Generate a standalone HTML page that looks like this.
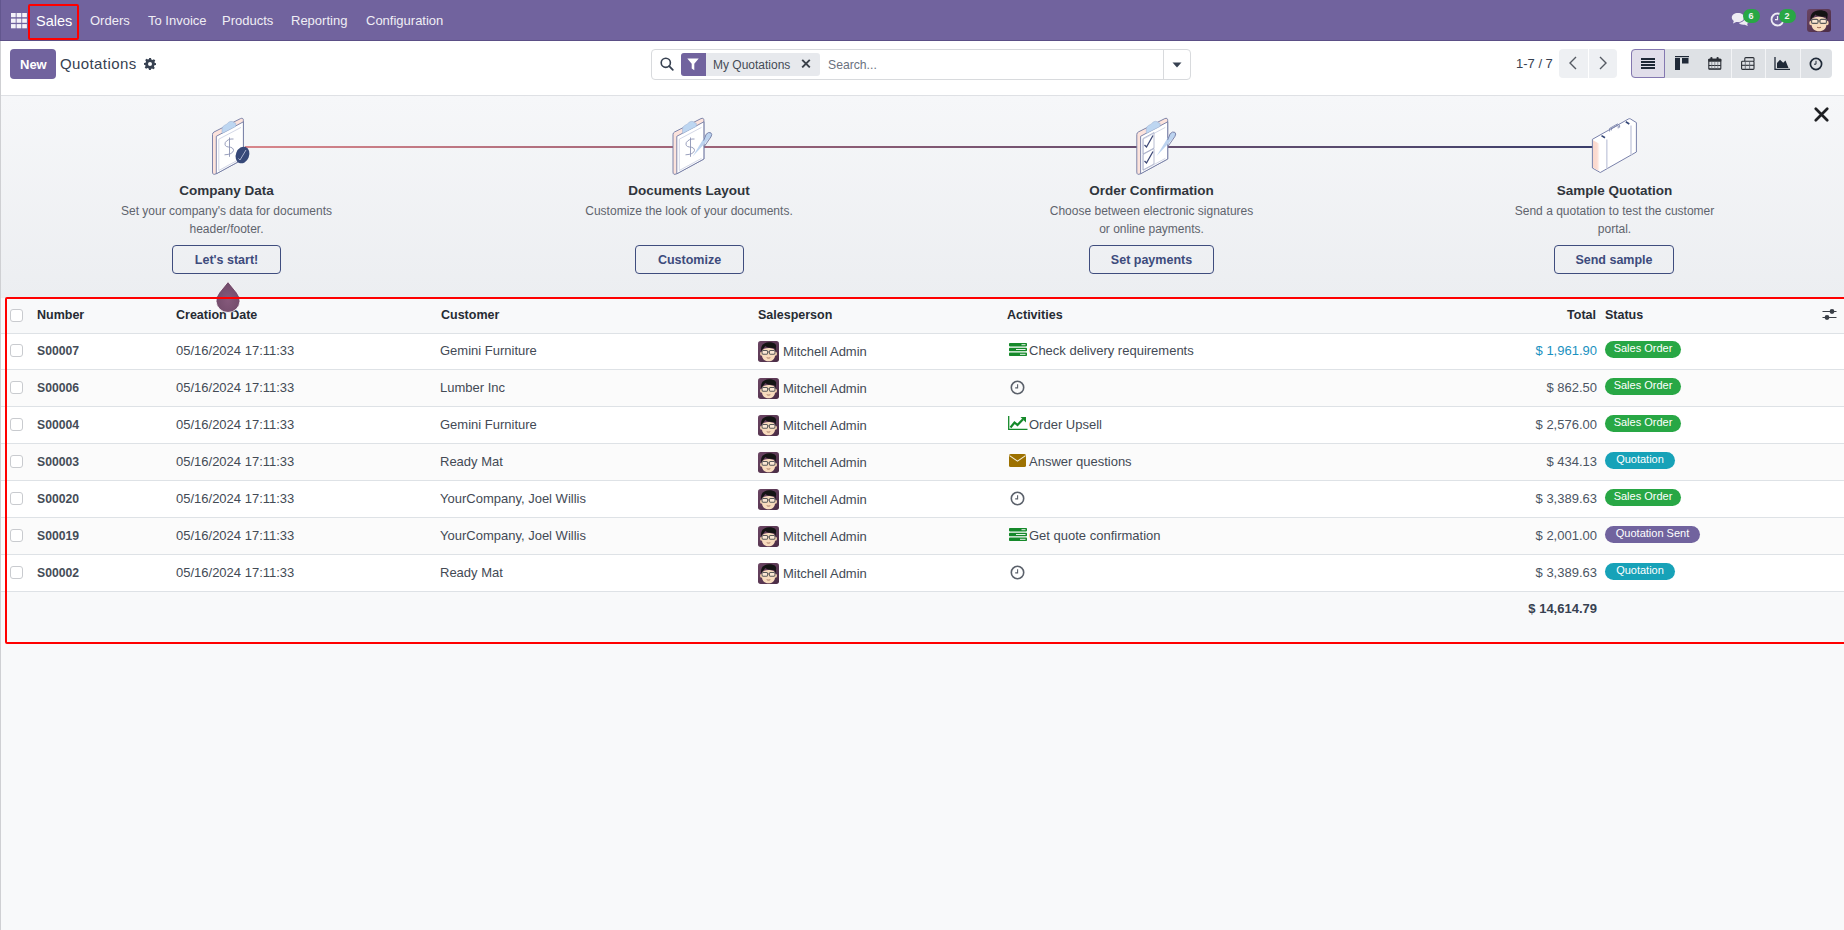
<!DOCTYPE html>
<html><head><meta charset="utf-8">
<style>
*{box-sizing:border-box;margin:0;padding:0}
html,body{width:1844px;height:930px;overflow:hidden}
body{font-family:"Liberation Sans",sans-serif;background:#f8f9fa;position:relative;color:#374151}
.a{position:absolute;white-space:nowrap;line-height:1}
#lb{position:absolute;left:0;top:41px;width:1px;height:889px;background:#cfd0d3;z-index:50}
#nav{position:absolute;left:0;top:0;width:1844px;height:41px;background:#71639e;border-bottom:1px solid #5b4f86}
#nav .m{color:#f0eef5;font-size:13px;top:14px}
#cp{position:absolute;left:0;top:41px;width:1844px;height:55px;background:#fff;border-bottom:1px solid #dfe1e5}
#onb{position:absolute;left:0;top:96px;width:1844px;height:202px;background:linear-gradient(#f6f7f9,#eceef1)}
.t{font-size:13.5px;font-weight:bold;color:#30353c}
.d{font-size:12px;color:#5f646d;line-height:18px;text-align:center;white-space:normal}
.btn{position:absolute;top:245px;height:29px;border:1px solid #3f4d7e;border-radius:4px;color:#3d4b7c;font-size:12.5px;font-weight:bold;text-align:center;line-height:27px;padding-top:1px}
#tbl{position:absolute;left:1px;top:298px;width:1843px}
.row{position:absolute;left:0;width:1843px;border-bottom:1px solid #dee2e6}
.cb{position:absolute;left:9px;width:13px;height:13px;border:1px solid #c9cbcf;border-radius:3px;background:#fff}
.h{font-size:12.5px;font-weight:bold;color:#262b33}
.c{font-size:13px;color:#434a55}
.num{font-size:12.2px;font-weight:bold;color:#454c57}
.badge{position:absolute;left:1605px;height:17px;border-radius:9px;color:#fff;font-size:11px;line-height:15px;text-align:center}
.red{position:absolute;border:2px solid #ff0000;z-index:60}
</style></head><body>
<div id="lb"></div>
<div class="a" style="left:0;top:0;width:1px;height:40px;background:#62568e;z-index:50"></div>

<!-- NAVBAR -->
<div id="nav">
  <svg class="a" style="left:10.8px;top:12.9px" width="16" height="16" viewBox="0 0 16 16"><g fill="#f4f2f8"><rect x="0" y="0" width="4.7" height="4.2"/><rect x="5.6" y="0" width="4.7" height="4.2"/><rect x="11.2" y="0" width="4.7" height="4.2"/><rect x="0" y="5.6" width="4.7" height="4.2"/><rect x="5.6" y="5.6" width="4.7" height="4.2"/><rect x="11.2" y="5.6" width="4.7" height="4.2"/><rect x="0" y="11.1" width="4.7" height="4.2"/><rect x="5.6" y="11.1" width="4.7" height="4.2"/><rect x="11.2" y="11.1" width="4.7" height="4.2"/></g></svg>
  <div class="a" style="left:36px;top:14px;font-size:14.5px;color:#fff">Sales</div>
  <div class="a m" style="left:90px">Orders</div>
  <div class="a m" style="left:148px">To Invoice</div>
  <div class="a m" style="left:222px">Products</div>
  <div class="a m" style="left:291px">Reporting</div>
  <div class="a m" style="left:366px">Configuration</div>
  <svg class="a" style="left:1731px;top:12px" width="19" height="15" viewBox="0 0 19 15"><path fill="#eeecf4" d="M7 1C3.4 1 .8 3 .8 5.6c0 1.4.8 2.6 2 3.4L2 11.5l3.2-1.6c.6.1 1.2.2 1.8.2 3.6 0 6.2-2 6.2-4.5S10.6 1 7 1z"/><path fill="#eeecf4" d="M14 5.2c.2 3-2.6 5.4-6.4 5.6.9 1.2 2.6 2 4.6 2 .5 0 1-.05 1.5-.15L16.8 14l-.7-2.3c1.2-.7 1.9-1.8 1.9-3 0-1.6-1.6-3-4-3.5z"/></svg>
  <div class="a" style="left:1743px;top:9px;width:17px;height:14px;border-radius:8px;background:#28a745"></div>
  <div class="a" style="left:1748.5px;top:12px;font-size:9px;font-weight:bold;color:#f4f4f4">6</div>
  <svg class="a" style="left:1770px;top:11px" width="15" height="16" viewBox="0 0 15 16"><circle cx="7.5" cy="8.5" r="6" fill="none" stroke="#eeecf4" stroke-width="1.8"/><path d="M7.5 5v3.7H5" fill="none" stroke="#eeecf4" stroke-width="1.2"/></svg>
  <div class="a" style="left:1779px;top:9px;width:17px;height:14px;border-radius:8px;background:#28a745"></div>
  <div class="a" style="left:1784.5px;top:12px;font-size:9px;font-weight:bold;color:#f4f4f4">2</div>
  <svg class="a" style="left:1807px;top:9px" width="24" height="23" viewBox="0 0 24 23"><defs><linearGradient id="avg" x1="0" y1="0" x2="1" y2="1"><stop offset="0" stop-color="#6b4563"/><stop offset="1" stop-color="#4a2c45"/></linearGradient></defs><rect width="24" height="23" rx="3" fill="url(#avg)"/><ellipse cx="4" cy="14" rx="1.7" ry="2.2" fill="#f2cfae"/><ellipse cx="20" cy="14" rx="1.7" ry="2.2" fill="#f2cfae"/><path fill="#f7dbbd" d="M4.5 11.5C4.5 6.5 19.5 6.5 19.5 11.5V15C19.5 19.8 16 22.3 12 22.3S4.5 19.8 4.5 15z"/><path fill="#141414" d="M3.6 11.8C2.6 4.5 7 1.2 13 1.3c5 .1 8.6 2 7.6 5.4l-.5 4.3-1.6-3.4C15 8.2 10.2 7.2 8.2 5.6 7.2 7.7 5.8 8.7 4.8 9.2z"/><g fill="rgba(255,255,255,.35)" stroke="#5a5a5a" stroke-width="1.1"><rect x="4.6" y="10.4" width="6.4" height="4" rx="1.2"/><rect x="13" y="10.4" width="6.4" height="4" rx="1.2"/></g><path d="M11 12h2" stroke="#5a5a5a" stroke-width="1"/><path d="M10 18.2c1.3.7 2.7.7 4 0" stroke="#9a6a55" stroke-width="1" fill="none"/></svg>
</div>
<div class="red" style="left:28px;top:4px;width:51px;height:36px;border-radius:2px"></div>

<!-- CONTROL PANEL -->
<div id="cp"></div>
<div class="a" style="left:10px;top:49px;width:46px;height:30px;background:#71639e;border-radius:4px"></div>
<div class="a" style="left:20px;top:58px;font-size:13px;font-weight:bold;color:#fff">New</div>
<div class="a" style="left:60px;top:56px;font-size:15px;letter-spacing:0.4px;color:#374151">Quotations</div>
<svg class="a" style="left:144px;top:58px" width="12" height="12" viewBox="0 0 12 12"><path fill="#374151" d="M5 0h2l.35 1.6a4.6 4.6 0 0 1 1.2.5L9.9 1.2l1.4 1.4-.9 1.35c.22.37.39.77.5 1.2L12 5v2l-1.6.35a4.6 4.6 0 0 1-.5 1.2l.9 1.35-1.4 1.4-1.35-.9a4.6 4.6 0 0 1-1.2.5L7 12H5l-.35-1.6a4.6 4.6 0 0 1-1.2-.5l-1.35.9-1.4-1.4.9-1.35a4.6 4.6 0 0 1-.5-1.2L0 7V5l1.6-.35c.11-.43.28-.83.5-1.2L1.2 2.1 2.6.7l1.35.9c.37-.22.77-.39 1.2-.5z M6 4a2 2 0 1 0 0 4 2 2 0 0 0 0-4z"/></svg>
<!-- search -->
<div class="a" style="left:651px;top:49px;width:540px;height:31px;border:1px solid #d8dadd;border-radius:4px;background:#fff"></div>
<svg class="a" style="left:660px;top:57px" width="14" height="14" viewBox="0 0 14 14"><circle cx="5.8" cy="5.8" r="4.6" fill="none" stroke="#374151" stroke-width="1.6"/><path d="M9.2 9.2l3.6 3.6" stroke="#374151" stroke-width="1.8" stroke-linecap="round"/></svg>
<div class="a" style="left:681px;top:53px;width:139px;height:23px;background:#e7e9ed;border-radius:3px"></div>
<div class="a" style="left:681px;top:53px;width:25px;height:23px;background:#71639e;border-radius:3px 0 0 3px"></div>
<svg class="a" style="left:687px;top:58px" width="12" height="13" viewBox="0 0 12 13"><path fill="#fff" d="M0.3 0.5h11.4L7.3 5.8v6.5L4.7 10.4V5.8z"/></svg>
<div class="a" style="left:713px;top:59px;font-size:12px;color:#454b55">My Quotations</div>
<svg class="a" style="left:801px;top:59px" width="10" height="9" viewBox="0 0 10 9"><path d="M1.2 0.8l7.6 7.6M8.8 0.8l-7.6 7.6" stroke="#3a4049" stroke-width="1.9"/></svg>
<div class="a" style="left:828px;top:59px;font-size:12.2px;color:#6b7280">Search...</div>
<div class="a" style="left:1163px;top:50px;width:1px;height:29px;background:#d8dadd"></div>
<svg class="a" style="left:1172px;top:62px" width="10" height="6" viewBox="0 0 10 6"><path fill="#374151" d="M0.5 0.5h9L5 5.5z"/></svg>
<!-- pager -->
<div class="a" style="left:1516px;top:57px;font-size:13px;color:#374151">1-7 / 7</div>
<div class="a" style="left:1559px;top:49px;width:29px;height:29px;background:#eef0f3;border-radius:4px 0 0 4px"></div>
<div class="a" style="left:1589px;top:49px;width:28px;height:29px;background:#eef0f3;border-radius:0 4px 4px 0"></div>
<svg class="a" style="left:1568px;top:56px" width="10" height="14" viewBox="0 0 10 14"><path d="M8 1L2 7l6 6" fill="none" stroke="#555a63" stroke-width="1.4"/></svg>
<svg class="a" style="left:1598px;top:56px" width="10" height="14" viewBox="0 0 10 14"><path d="M2 1l6 6-6 6" fill="none" stroke="#555a63" stroke-width="1.4"/></svg>
<!-- view switcher -->
<div class="a" style="left:1631px;top:49px;width:201px;height:29px;background:#dee1e5;border-radius:4px"></div>
<div class="a" style="left:1631px;top:49px;width:34px;height:29px;background:#e1deea;border:1.5px solid #8478b0;border-radius:4px 0 0 4px"></div>
<div class="a" style="left:1731px;top:49px;width:1px;height:29px;background:#f3f4f6"></div>
<div class="a" style="left:1765px;top:49px;width:1px;height:29px;background:#f3f4f6"></div>
<div class="a" style="left:1800px;top:49px;width:1px;height:29px;background:#f3f4f6"></div>
<svg class="a" style="left:1641px;top:57px" width="14" height="12" viewBox="0 0 14 12"><g fill="#1f2937"><rect y="1" width="14" height="2"/><rect y="4" width="14" height="2"/><rect y="7" width="14" height="2"/><rect y="10" width="14" height="2"/></g></svg>
<svg class="a" style="left:1675px;top:56px" width="14" height="14" viewBox="0 0 14 14"><g fill="#1f2937"><rect x="0" y="0" width="14" height="1.2"/><rect x="0" y="2" width="5" height="12"/><rect x="7" y="2" width="6.5" height="5.5"/></g></svg>
<svg class="a" style="left:1708px;top:57px" width="14" height="13" viewBox="0 0 14 13"><g fill="#2b2f36"><rect x="2.3" y="0" width="2.2" height="2.5" rx="1"/><rect x="8.5" y="0" width="2.2" height="2.5" rx="1"/><rect x="0.3" y="1.8" width="13" height="3" rx="0.8"/></g><g fill="none" stroke="#2b2f36"><rect x="0.8" y="2.3" width="12" height="10" rx="0.8" stroke-width="1.1"/><path d="M0.8 8.5h12M0.8 11.8h12" stroke-width="1"/><path d="M3.8 5v7M6.8 5v7M9.8 5v7" stroke-width="0.7" stroke="#6b7079"/></g></svg>
<svg class="a" style="left:1741px;top:57px" width="14" height="13" viewBox="0 0 14 13"><g fill="none" stroke="#2b2f36" stroke-width="1.1"><path d="M3.8 4.3V1.6Q3.8 0.6 4.8 0.6H12Q13 0.6 13 1.6V4.3"/><rect x="0.6" y="4.3" width="12.4" height="8.1" rx="0.9"/><path d="M0.6 8.3h12.4"/><path d="M4.3 4.3v8.1M8.6 4.3v8.1" stroke-width="0.8" stroke="#5a5f68"/></g></svg>
<svg class="a" style="left:1774px;top:57px" width="16" height="13" viewBox="0 0 16 13"><path d="M1 0v12.3h15" fill="none" stroke="#1f2937" stroke-width="1.3"/><path fill="#1f2937" d="M3 11V6l3-3.2 3.2 3 2.3-2.3L14.5 11z"/></svg>
<svg class="a" style="left:1809px;top:57px" width="14" height="14" viewBox="0 0 14 14"><circle cx="7" cy="7" r="5.6" fill="none" stroke="#1f2937" stroke-width="1.7"/><path d="M7 3.8V7.2H5" fill="none" stroke="#1f2937" stroke-width="1"/></svg>

<!-- ONBOARDING -->
<div id="onb"></div>
<div class="a" style="left:245px;top:146px;width:1348px;height:2px;background:linear-gradient(90deg,#d8868b 0%,#9f6478 33%,#664d6e 67%,#574a6e 83%,#3b3e6b 100%)"></div>
<svg class="a" style="left:0;top:96px" width="1844" height="202" viewBox="0 96 1844 202">
  <defs>
    <g id="clip">
      <path d="M212.5,134.5 Q212.5,132.8 214,132 L240.5,118.6 Q243.4,117.4 243.4,120.5 L243.4,159 L216,173.8 Q212.5,175.5 212.5,172 Z" fill="#fce3dc" stroke="#6f78a2" stroke-width="0.9"/>
      <path d="M216.3,136.3 L243.4,121.8 L243.4,159 L216.3,173.8 Z" fill="#fff" stroke="#6f78a2" stroke-width="0.9"/>
      <path d="M218.8,139.2 L241,127.4 M218.8,139.2 L218.8,170.5 L241,158.4" fill="none" stroke="#c8cde0" stroke-width="0.8"/>
      <path d="M222,133.6 L222,129 Q222,126.6 224.5,125.3 L227,124 Q228.5,121.5 231,121.3 Q233,121.3 233.8,122.6 L235.8,123.2 L235.8,126.4 Z" fill="#bdd6f1" stroke="#9fb0d0" stroke-width="0.5"/>
    </g>
  </defs>
  <use href="#clip"/>
  <g transform="translate(460.5,0)"><use href="#clip"/></g>
  <g transform="translate(924.3,0)"><use href="#clip"/></g>
  <!-- dollar 1 & 2 -->
  <g fill="none" stroke="#8d94b4" stroke-width="0.9">
    <path d="M233.5,139 Q228,138.5 225.3,142.5 Q224,146.5 228.5,147 Q233.5,147.2 233.5,150.5 Q232.5,154.5 224.5,154.8 M229.5,137.5 V156.8"/>
    <path d="M694.5,139 Q689,138.5 686.3,142.5 Q685,146.5 689.5,147 Q694.5,147.2 694.5,150.5 Q693.5,154.5 685.5,154.8 M690.5,137.5 V156.8"/>
  </g>
  <!-- badge 1 -->
  <ellipse cx="242.5" cy="155" rx="6.6" ry="8.6" transform="rotate(22 242.5 155)" fill="#364878"/>
  <path d="M238.5,158.5 L240,160 L246,150" fill="none" stroke="#a9b1cd" stroke-width="1"/>
  <!-- pen 2 -->
  <g id="pen"><path d="M692.6,156.6 L706.2,134.2 Q708.6,131.6 710.8,132.8 Q712.6,134.2 710.9,137 Z" fill="#bcd3ef"/>
  <path d="M703.6,140.6 L706.2,134.2 Q708.6,131.6 710.8,132.8 Q712.6,134.2 710.9,137 L704.2,146.6" fill="none" stroke="#6f78a2" stroke-width="0.9"/></g>
  <!-- clipboard 3 checks + pen -->
  <g fill="none" stroke="#a6acc6" stroke-width="0.8">
    <path d="M1143,138.5 L1154,132.5 L1154,148 L1143,154 Z"/>
    <path d="M1143,154.5 L1154,148.5 L1154,164 L1143,170 Z"/>
  </g>
  <g fill="none" stroke="#3f4a78" stroke-width="1.3">
    <path d="M1144.5,145 L1146.5,147 L1153,135.5"/>
    <path d="M1144.5,161 L1146.5,163 L1153,151.5"/>
  </g>
  <g transform="translate(464,-0.5)"><use href="#pen"/></g>
  <!-- briefcase -->
  <defs><linearGradient id="pk" x1="0" x2="1"><stop offset="0" stop-color="#fbd8cd"/><stop offset="0.6" stop-color="#fcdcd2"/><stop offset="1" stop-color="#fff"/></linearGradient></defs>
  <path d="M1592.4,139.3 L1628.6,118.9 Q1629.5,118.4 1630.4,118.9 L1636.4,122.6 L1636.4,152 L1600.3,172.5 L1592.4,168 Z" fill="#fff" stroke="#6a73a0" stroke-width="0.9"/>
  <path d="M1593,140.2 L1599.8,144 L1599.8,171.5 L1593,167.6 Z" fill="url(#pk)"/>
  <path d="M1606.8,139.5 V168.6 M1631,125.5 V154.8" stroke="#cfd3e3" stroke-width="1.6"/>
  <path d="M1601.5,135.6 L1605,137.8 M1625.8,121.8 L1629.3,124" stroke="#364878" stroke-width="1.7"/>
  <path d="M1609.6,131.5 L1609.6,128.4 L1617.4,124 L1619.6,125.2 L1619.6,127.6 M1611.4,130.4 L1611.4,128.9 L1617.6,125.4 L1618.2,125.8 L1618.2,128.4" fill="none" stroke="#7d86ad" stroke-width="0.9"/>
</svg>
<svg class="a" style="left:1814px;top:107px" width="15" height="15" viewBox="0 0 15 15"><path d="M1.8 1.8l11.4 11.4M13.2 1.8l-11.4 11.4" stroke="#1f2023" stroke-width="2.7" stroke-linecap="round"/></svg>
<div class="a t" style="left:126.5px;width:200px;text-align:center;top:184px">Company Data</div>
<div class="a d" style="left:76.5px;width:300px;top:202px">Set your company's data for documents<br>header/footer.</div>
<div class="btn" style="left:172px;width:109px">Let's start!</div>
<div class="a t" style="left:589px;width:200px;text-align:center;top:184px">Documents Layout</div>
<div class="a d" style="left:539px;width:300px;top:202px">Customize the look of your documents.</div>
<div class="btn" style="left:635px;width:109px">Customize</div>
<div class="a t" style="left:1051.5px;width:200px;text-align:center;top:184px">Order Confirmation</div>
<div class="a d" style="left:1001.5px;width:300px;top:202px">Choose between electronic signatures<br>or online payments.</div>
<div class="btn" style="left:1089px;width:125px">Set payments</div>
<div class="a t" style="left:1514.5px;width:200px;text-align:center;top:184px">Sample Quotation</div>
<div class="a d" style="left:1464.5px;width:300px;top:202px">Send a quotation to test the customer<br>portal.</div>
<div class="btn" style="left:1554px;width:120px">Send sample</div>

<!-- TABLE -->
<div class="a" style="left:1px;top:298px;width:1843px;height:36px;background:#f8f9fa;border-bottom:1px solid #dee2e6"></div>
<div class="cb a" style="left:10px;top:309px"></div>
<div class="a h" style="left:37px;top:309px">Number</div>
<div class="a h" style="left:176px;top:309px">Creation Date</div>
<div class="a h" style="left:441px;top:309px">Customer</div>
<div class="a h" style="left:758px;top:309px">Salesperson</div>
<div class="a h" style="left:1007px;top:309px">Activities</div>
<div class="a h" style="left:1605px;top:309px">Status</div>
<div class="a h" style="right:248px;top:309px">Total</div>
<svg class="a" style="left:1822px;top:308px" width="15" height="12" viewBox="0 0 15 12"><path d="M0.5 3.5H14.5M0.5 9.5H14.5" stroke="#3a3f47" stroke-width="1.2"/><circle cx="10" cy="3.5" r="2.4" fill="#3a3f47"/><circle cx="5" cy="9.5" r="2.4" fill="#3a3f47"/></svg>
<div class="a" style="left:1px;top:334px;width:1843px;height:36px;background:#fff;border-bottom:1px solid #dee2e6"></div>
<div class="cb a" style="left:10px;top:344px"></div>
<div class="a num" style="left:37px;top:345px">S00007</div>
<div class="a c" style="left:176px;top:344px">05/16/2024 17:11:33</div>
<div class="a c" style="left:440px;top:344px">Gemini Furniture</div>
<svg class="a" style="left:758px;top:341px" width="21" height="21" viewBox="0 0 24 23" preserveAspectRatio="none"><defs><linearGradient id="avg2" x1="0" y1="0" x2="1" y2="1"><stop offset="0" stop-color="#6b4563"/><stop offset="1" stop-color="#4a2c45"/></linearGradient></defs><rect width="24" height="23" rx="3" fill="url(#avg2)"/><ellipse cx="4" cy="14" rx="1.7" ry="2.2" fill="#f2cfae"/><ellipse cx="20" cy="14" rx="1.7" ry="2.2" fill="#f2cfae"/><path fill="#f7dbbd" d="M4.5 11.5C4.5 6.5 19.5 6.5 19.5 11.5V15C19.5 19.8 16 22.3 12 22.3S4.5 19.8 4.5 15z"/><path fill="#141414" d="M3.6 11.8C2.6 4.5 7 1.2 13 1.3c5 .1 8.6 2 7.6 5.4l-.5 4.3-1.6-3.4C15 8.2 10.2 7.2 8.2 5.6 7.2 7.7 5.8 8.7 4.8 9.2z"/><g fill="rgba(255,255,255,.35)" stroke="#5a5a5a" stroke-width="1.1"><rect x="4.6" y="10.4" width="6.4" height="4" rx="1.2"/><rect x="13" y="10.4" width="6.4" height="4" rx="1.2"/></g><path d="M11 12h2" stroke="#5a5a5a" stroke-width="1"/><path d="M10 18.2c1.3.7 2.7.7 4 0" stroke="#9a6a55" stroke-width="1" fill="none"/></svg>
<div class="a c" style="left:783px;top:345px">Mitchell Admin</div>
<svg class="a" style="left:1009px;top:343px" width="18" height="13" viewBox="0 0 18 13"><g fill="#15892a"><rect x="0" y="0" width="18" height="3.4" rx="0.8"/><rect x="0" y="4.8" width="18" height="3.4" rx="0.8"/><rect x="0" y="9.6" width="18" height="3.4" rx="0.8"/></g><g fill="#e9f3ea"><rect x="12.5" y="1.2" width="4" height="1"/><rect x="7" y="6" width="9.5" height="1"/><rect x="11" y="10.8" width="5.5" height="1"/></g></svg>
<div class="a c" style="left:1029px;top:344px">Check delivery requirements</div>
<div class="a c" style="right:247px;top:344px;color:#1a91c0">$ 1,961.90</div>
<div class="badge a" style="top:341px;background:#28a745;width:76px">Sales Order</div>
<div class="a" style="left:1px;top:370px;width:1843px;height:37px;background:#fbfbfb;border-bottom:1px solid #dee2e6"></div>
<div class="cb a" style="left:10px;top:381px"></div>
<div class="a num" style="left:37px;top:382px">S00006</div>
<div class="a c" style="left:176px;top:381px">05/16/2024 17:11:33</div>
<div class="a c" style="left:440px;top:381px">Lumber Inc</div>
<svg class="a" style="left:758px;top:378px" width="21" height="21" viewBox="0 0 24 23" preserveAspectRatio="none"><defs><linearGradient id="avg2" x1="0" y1="0" x2="1" y2="1"><stop offset="0" stop-color="#6b4563"/><stop offset="1" stop-color="#4a2c45"/></linearGradient></defs><rect width="24" height="23" rx="3" fill="url(#avg2)"/><ellipse cx="4" cy="14" rx="1.7" ry="2.2" fill="#f2cfae"/><ellipse cx="20" cy="14" rx="1.7" ry="2.2" fill="#f2cfae"/><path fill="#f7dbbd" d="M4.5 11.5C4.5 6.5 19.5 6.5 19.5 11.5V15C19.5 19.8 16 22.3 12 22.3S4.5 19.8 4.5 15z"/><path fill="#141414" d="M3.6 11.8C2.6 4.5 7 1.2 13 1.3c5 .1 8.6 2 7.6 5.4l-.5 4.3-1.6-3.4C15 8.2 10.2 7.2 8.2 5.6 7.2 7.7 5.8 8.7 4.8 9.2z"/><g fill="rgba(255,255,255,.35)" stroke="#5a5a5a" stroke-width="1.1"><rect x="4.6" y="10.4" width="6.4" height="4" rx="1.2"/><rect x="13" y="10.4" width="6.4" height="4" rx="1.2"/></g><path d="M11 12h2" stroke="#5a5a5a" stroke-width="1"/><path d="M10 18.2c1.3.7 2.7.7 4 0" stroke="#9a6a55" stroke-width="1" fill="none"/></svg>
<div class="a c" style="left:783px;top:382px">Mitchell Admin</div>
<svg class="a" style="left:1010px;top:380px" width="15" height="15" viewBox="0 0 15 15"><circle cx="7.5" cy="7.5" r="6.2" fill="none" stroke="#5b616b" stroke-width="1.6"/><path d="M7.6 4.2V7.9H5.2" fill="none" stroke="#5b616b" stroke-width="1.1"/></svg>
<div class="a c" style="right:247px;top:381px;color:#4b5563">$ 862.50</div>
<div class="badge a" style="top:378px;background:#28a745;width:76px">Sales Order</div>
<div class="a" style="left:1px;top:407px;width:1843px;height:37px;background:#fff;border-bottom:1px solid #dee2e6"></div>
<div class="cb a" style="left:10px;top:418px"></div>
<div class="a num" style="left:37px;top:419px">S00004</div>
<div class="a c" style="left:176px;top:418px">05/16/2024 17:11:33</div>
<div class="a c" style="left:440px;top:418px">Gemini Furniture</div>
<svg class="a" style="left:758px;top:415px" width="21" height="21" viewBox="0 0 24 23" preserveAspectRatio="none"><defs><linearGradient id="avg2" x1="0" y1="0" x2="1" y2="1"><stop offset="0" stop-color="#6b4563"/><stop offset="1" stop-color="#4a2c45"/></linearGradient></defs><rect width="24" height="23" rx="3" fill="url(#avg2)"/><ellipse cx="4" cy="14" rx="1.7" ry="2.2" fill="#f2cfae"/><ellipse cx="20" cy="14" rx="1.7" ry="2.2" fill="#f2cfae"/><path fill="#f7dbbd" d="M4.5 11.5C4.5 6.5 19.5 6.5 19.5 11.5V15C19.5 19.8 16 22.3 12 22.3S4.5 19.8 4.5 15z"/><path fill="#141414" d="M3.6 11.8C2.6 4.5 7 1.2 13 1.3c5 .1 8.6 2 7.6 5.4l-.5 4.3-1.6-3.4C15 8.2 10.2 7.2 8.2 5.6 7.2 7.7 5.8 8.7 4.8 9.2z"/><g fill="rgba(255,255,255,.35)" stroke="#5a5a5a" stroke-width="1.1"><rect x="4.6" y="10.4" width="6.4" height="4" rx="1.2"/><rect x="13" y="10.4" width="6.4" height="4" rx="1.2"/></g><path d="M11 12h2" stroke="#5a5a5a" stroke-width="1"/><path d="M10 18.2c1.3.7 2.7.7 4 0" stroke="#9a6a55" stroke-width="1" fill="none"/></svg>
<div class="a c" style="left:783px;top:419px">Mitchell Admin</div>
<svg class="a" style="left:1008px;top:416px" width="20" height="14" viewBox="0 0 20 14"><path d="M0.7 0V13.3H19.5" fill="none" stroke="#15892a" stroke-width="1.3"/><path d="M2.5 11.5L6.5 6.5L9.5 9L15 3.2" fill="none" stroke="#15892a" stroke-width="2.2"/><path fill="#15892a" d="M12.5 1H18V6.5z"/></svg>
<div class="a c" style="left:1029px;top:418px">Order Upsell</div>
<div class="a c" style="right:247px;top:418px;color:#4b5563">$ 2,576.00</div>
<div class="badge a" style="top:415px;background:#28a745;width:76px">Sales Order</div>
<div class="a" style="left:1px;top:444px;width:1843px;height:37px;background:#fbfbfb;border-bottom:1px solid #dee2e6"></div>
<div class="cb a" style="left:10px;top:455px"></div>
<div class="a num" style="left:37px;top:456px">S00003</div>
<div class="a c" style="left:176px;top:455px">05/16/2024 17:11:33</div>
<div class="a c" style="left:440px;top:455px">Ready Mat</div>
<svg class="a" style="left:758px;top:452px" width="21" height="21" viewBox="0 0 24 23" preserveAspectRatio="none"><defs><linearGradient id="avg2" x1="0" y1="0" x2="1" y2="1"><stop offset="0" stop-color="#6b4563"/><stop offset="1" stop-color="#4a2c45"/></linearGradient></defs><rect width="24" height="23" rx="3" fill="url(#avg2)"/><ellipse cx="4" cy="14" rx="1.7" ry="2.2" fill="#f2cfae"/><ellipse cx="20" cy="14" rx="1.7" ry="2.2" fill="#f2cfae"/><path fill="#f7dbbd" d="M4.5 11.5C4.5 6.5 19.5 6.5 19.5 11.5V15C19.5 19.8 16 22.3 12 22.3S4.5 19.8 4.5 15z"/><path fill="#141414" d="M3.6 11.8C2.6 4.5 7 1.2 13 1.3c5 .1 8.6 2 7.6 5.4l-.5 4.3-1.6-3.4C15 8.2 10.2 7.2 8.2 5.6 7.2 7.7 5.8 8.7 4.8 9.2z"/><g fill="rgba(255,255,255,.35)" stroke="#5a5a5a" stroke-width="1.1"><rect x="4.6" y="10.4" width="6.4" height="4" rx="1.2"/><rect x="13" y="10.4" width="6.4" height="4" rx="1.2"/></g><path d="M11 12h2" stroke="#5a5a5a" stroke-width="1"/><path d="M10 18.2c1.3.7 2.7.7 4 0" stroke="#9a6a55" stroke-width="1" fill="none"/></svg>
<div class="a c" style="left:783px;top:456px">Mitchell Admin</div>
<svg class="a" style="left:1009px;top:454px" width="17" height="13" viewBox="0 0 17 13"><rect x="0" y="0" width="17" height="13" rx="1.6" fill="#9d7100"/><path d="M0.5 1.6L8.5 7.2L16.5 1.6" fill="none" stroke="#f5eedb" stroke-width="1.1"/></svg>
<div class="a c" style="left:1029px;top:455px">Answer questions</div>
<div class="a c" style="right:247px;top:455px;color:#4b5563">$ 434.13</div>
<div class="badge a" style="top:452px;background:#17a2b8;width:70px">Quotation</div>
<div class="a" style="left:1px;top:481px;width:1843px;height:37px;background:#fff;border-bottom:1px solid #dee2e6"></div>
<div class="cb a" style="left:10px;top:492px"></div>
<div class="a num" style="left:37px;top:493px">S00020</div>
<div class="a c" style="left:176px;top:492px">05/16/2024 17:11:33</div>
<div class="a c" style="left:440px;top:492px">YourCompany, Joel Willis</div>
<svg class="a" style="left:758px;top:489px" width="21" height="21" viewBox="0 0 24 23" preserveAspectRatio="none"><defs><linearGradient id="avg2" x1="0" y1="0" x2="1" y2="1"><stop offset="0" stop-color="#6b4563"/><stop offset="1" stop-color="#4a2c45"/></linearGradient></defs><rect width="24" height="23" rx="3" fill="url(#avg2)"/><ellipse cx="4" cy="14" rx="1.7" ry="2.2" fill="#f2cfae"/><ellipse cx="20" cy="14" rx="1.7" ry="2.2" fill="#f2cfae"/><path fill="#f7dbbd" d="M4.5 11.5C4.5 6.5 19.5 6.5 19.5 11.5V15C19.5 19.8 16 22.3 12 22.3S4.5 19.8 4.5 15z"/><path fill="#141414" d="M3.6 11.8C2.6 4.5 7 1.2 13 1.3c5 .1 8.6 2 7.6 5.4l-.5 4.3-1.6-3.4C15 8.2 10.2 7.2 8.2 5.6 7.2 7.7 5.8 8.7 4.8 9.2z"/><g fill="rgba(255,255,255,.35)" stroke="#5a5a5a" stroke-width="1.1"><rect x="4.6" y="10.4" width="6.4" height="4" rx="1.2"/><rect x="13" y="10.4" width="6.4" height="4" rx="1.2"/></g><path d="M11 12h2" stroke="#5a5a5a" stroke-width="1"/><path d="M10 18.2c1.3.7 2.7.7 4 0" stroke="#9a6a55" stroke-width="1" fill="none"/></svg>
<div class="a c" style="left:783px;top:493px">Mitchell Admin</div>
<svg class="a" style="left:1010px;top:491px" width="15" height="15" viewBox="0 0 15 15"><circle cx="7.5" cy="7.5" r="6.2" fill="none" stroke="#5b616b" stroke-width="1.6"/><path d="M7.6 4.2V7.9H5.2" fill="none" stroke="#5b616b" stroke-width="1.1"/></svg>
<div class="a c" style="right:247px;top:492px;color:#4b5563">$ 3,389.63</div>
<div class="badge a" style="top:489px;background:#28a745;width:76px">Sales Order</div>
<div class="a" style="left:1px;top:518px;width:1843px;height:37px;background:#fbfbfb;border-bottom:1px solid #dee2e6"></div>
<div class="cb a" style="left:10px;top:529px"></div>
<div class="a num" style="left:37px;top:530px">S00019</div>
<div class="a c" style="left:176px;top:529px">05/16/2024 17:11:33</div>
<div class="a c" style="left:440px;top:529px">YourCompany, Joel Willis</div>
<svg class="a" style="left:758px;top:526px" width="21" height="21" viewBox="0 0 24 23" preserveAspectRatio="none"><defs><linearGradient id="avg2" x1="0" y1="0" x2="1" y2="1"><stop offset="0" stop-color="#6b4563"/><stop offset="1" stop-color="#4a2c45"/></linearGradient></defs><rect width="24" height="23" rx="3" fill="url(#avg2)"/><ellipse cx="4" cy="14" rx="1.7" ry="2.2" fill="#f2cfae"/><ellipse cx="20" cy="14" rx="1.7" ry="2.2" fill="#f2cfae"/><path fill="#f7dbbd" d="M4.5 11.5C4.5 6.5 19.5 6.5 19.5 11.5V15C19.5 19.8 16 22.3 12 22.3S4.5 19.8 4.5 15z"/><path fill="#141414" d="M3.6 11.8C2.6 4.5 7 1.2 13 1.3c5 .1 8.6 2 7.6 5.4l-.5 4.3-1.6-3.4C15 8.2 10.2 7.2 8.2 5.6 7.2 7.7 5.8 8.7 4.8 9.2z"/><g fill="rgba(255,255,255,.35)" stroke="#5a5a5a" stroke-width="1.1"><rect x="4.6" y="10.4" width="6.4" height="4" rx="1.2"/><rect x="13" y="10.4" width="6.4" height="4" rx="1.2"/></g><path d="M11 12h2" stroke="#5a5a5a" stroke-width="1"/><path d="M10 18.2c1.3.7 2.7.7 4 0" stroke="#9a6a55" stroke-width="1" fill="none"/></svg>
<div class="a c" style="left:783px;top:530px">Mitchell Admin</div>
<svg class="a" style="left:1009px;top:528px" width="18" height="13" viewBox="0 0 18 13"><g fill="#15892a"><rect x="0" y="0" width="18" height="3.4" rx="0.8"/><rect x="0" y="4.8" width="18" height="3.4" rx="0.8"/><rect x="0" y="9.6" width="18" height="3.4" rx="0.8"/></g><g fill="#e9f3ea"><rect x="12.5" y="1.2" width="4" height="1"/><rect x="7" y="6" width="9.5" height="1"/><rect x="11" y="10.8" width="5.5" height="1"/></g></svg>
<div class="a c" style="left:1029px;top:529px">Get quote confirmation</div>
<div class="a c" style="right:247px;top:529px;color:#4b5563">$ 2,001.00</div>
<div class="badge a" style="top:526px;background:#71639e;width:95px">Quotation Sent</div>
<div class="a" style="left:1px;top:555px;width:1843px;height:37px;background:#fff;border-bottom:1px solid #dee2e6"></div>
<div class="cb a" style="left:10px;top:566px"></div>
<div class="a num" style="left:37px;top:567px">S00002</div>
<div class="a c" style="left:176px;top:566px">05/16/2024 17:11:33</div>
<div class="a c" style="left:440px;top:566px">Ready Mat</div>
<svg class="a" style="left:758px;top:563px" width="21" height="21" viewBox="0 0 24 23" preserveAspectRatio="none"><defs><linearGradient id="avg2" x1="0" y1="0" x2="1" y2="1"><stop offset="0" stop-color="#6b4563"/><stop offset="1" stop-color="#4a2c45"/></linearGradient></defs><rect width="24" height="23" rx="3" fill="url(#avg2)"/><ellipse cx="4" cy="14" rx="1.7" ry="2.2" fill="#f2cfae"/><ellipse cx="20" cy="14" rx="1.7" ry="2.2" fill="#f2cfae"/><path fill="#f7dbbd" d="M4.5 11.5C4.5 6.5 19.5 6.5 19.5 11.5V15C19.5 19.8 16 22.3 12 22.3S4.5 19.8 4.5 15z"/><path fill="#141414" d="M3.6 11.8C2.6 4.5 7 1.2 13 1.3c5 .1 8.6 2 7.6 5.4l-.5 4.3-1.6-3.4C15 8.2 10.2 7.2 8.2 5.6 7.2 7.7 5.8 8.7 4.8 9.2z"/><g fill="rgba(255,255,255,.35)" stroke="#5a5a5a" stroke-width="1.1"><rect x="4.6" y="10.4" width="6.4" height="4" rx="1.2"/><rect x="13" y="10.4" width="6.4" height="4" rx="1.2"/></g><path d="M11 12h2" stroke="#5a5a5a" stroke-width="1"/><path d="M10 18.2c1.3.7 2.7.7 4 0" stroke="#9a6a55" stroke-width="1" fill="none"/></svg>
<div class="a c" style="left:783px;top:567px">Mitchell Admin</div>
<svg class="a" style="left:1010px;top:565px" width="15" height="15" viewBox="0 0 15 15"><circle cx="7.5" cy="7.5" r="6.2" fill="none" stroke="#5b616b" stroke-width="1.6"/><path d="M7.6 4.2V7.9H5.2" fill="none" stroke="#5b616b" stroke-width="1.1"/></svg>
<div class="a c" style="right:247px;top:566px;color:#4b5563">$ 3,389.63</div>
<div class="badge a" style="top:563px;background:#17a2b8;width:70px">Quotation</div>
<div class="a" style="right:247px;top:602px;font-size:13px;font-weight:bold;color:#374151">$ 14,614.79</div>

<svg class="a" style="left:210px;top:278px;z-index:55" width="36" height="38" viewBox="210 278 36 38"><defs><radialGradient id="tg" cx="0.5" cy="0.6" r="0.6"><stop offset="0" stop-color="#85597b"/><stop offset="1" stop-color="#704a69"/></radialGradient></defs><path d="M228,281.5 L237.3,292.92 A12,12 0 1 1 218.7,292.92 Z" fill="url(#tg)" stroke="rgba(255,255,255,0.85)" stroke-width="1"/></svg>
<div class="red" style="left:5px;top:297px;width:1845px;height:347px;border-width:2px;border-radius:2px"></div>
</body></html>
